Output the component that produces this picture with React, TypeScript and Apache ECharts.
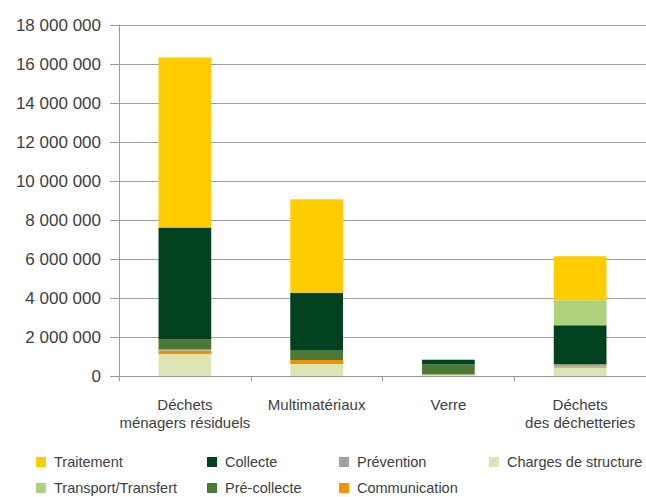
import React, { useEffect, useRef } from "react";
import * as echarts from "echarts";

const categories = [
  "Déchets\nménagers résiduels",
  "Multimatériaux",
  "Verre",
  "Déchets\ndes déchetteries",
];
const chargesStructure = [1130000, 620000, 70000, 420000];
const communication = [180000, 200000, 10000, 70000];
const prevention = [50000, 0, 0, 110000];
const preCollecte = [510000, 510000, 510000, 0];
const collecte = [5740000, 2940000, 240000, 2000000];
const transport = [0, 0, 0, 1280000];
const traitement = [8720000, 4800000, 0, 2260000];

const seriesDefs = [
  { name: "Charges de structure", data: chargesStructure, color: "#DCE6B4" },
  { name: "Communication", data: communication, color: "#F39200" },
  { name: "Prévention", data: prevention, color: "#A0A0A0" },
  { name: "Pré-collecte", data: preCollecte, color: "#4A7A35" },
  { name: "Collecte", data: collecte, color: "#00421F" },
  { name: "Transport/Transfert", data: transport, color: "#AED17E" },
  { name: "Traitement", data: traitement, color: "#FFCC00" },
];

const legendLayout = [
  { name: "Traitement", left: 36, top: 453 },
  { name: "Collecte", left: 207, top: 453 },
  { name: "Prévention", left: 339, top: 453 },
  { name: "Charges de structure", left: 489, top: 453 },
  { name: "Transport/Transfert", left: 36, top: 479 },
  { name: "Pré-collecte", left: 207, top: 479 },
  { name: "Communication", left: 339, top: 479 },
];

const textColor = "#404040";
const font = "'Liberation Sans', Arial, sans-serif";

export default function App() {
  const ref = useRef<HTMLDivElement>(null);
  useEffect(() => {
    if (!ref.current) return;
    const chart = echarts.init(ref.current, undefined, { renderer: "svg" });
    chart.setOption({
      animation: false,
      backgroundColor: "#ffffff",
      grid: { left: 119, right: 0, top: 25, bottom: 121, containLabel: false },
      legend: legendLayout.map((l) => ({
        data: [l.name],
        left: l.left,
        top: l.top,
        icon: "rect",
        itemWidth: 10,
        itemHeight: 10,
        padding: 0,
        selectedMode: false,
        textStyle: {
          color: textColor,
          fontSize: 14.5,
          fontFamily: font,
          lineHeight: 18,
          padding: [0, 0, 0, 3],
        },
      })),
      xAxis: {
        type: "category",
        data: categories,
        axisLine: { lineStyle: { color: "#999", width: 1 } },
        axisTick: { show: true, length: 5, lineStyle: { color: "#999" } },
        axisLabel: {
          color: textColor,
          fontSize: 15,
          fontFamily: font,
          lineHeight: 18,
          margin: 19,
          interval: 0,
        },
      },
      yAxis: {
        type: "value",
        min: 0,
        max: 18000000,
        interval: 2000000,
        axisLine: { show: true, lineStyle: { color: "#999", width: 1 } },
        axisTick: { show: true, length: 9, lineStyle: { color: "#999" } },
        splitLine: { show: true, lineStyle: { color: "#a0a0a0", width: 1 } },
        axisLabel: {
          color: textColor,
          fontSize: 17,
          fontFamily: font,
          margin: 18,
          formatter: (v: number) =>
            String(v).replace(/\B(?=(\d{3})+(?!\d))/g, " "),
        },
      },
      series: seriesDefs.map((s) => ({
        name: s.name,
        type: "bar",
        stack: "total",
        barWidth: "40%",
        data: s.data,
        itemStyle: { color: s.color },
        emphasis: { disabled: true },
      })),
    });
    return () => chart.dispose();
  }, []);
  return (
    <div
      ref={ref}
      style={{ position: "absolute", left: 0, top: 0, width: 646, height: 497 }}
    />
  );
}
